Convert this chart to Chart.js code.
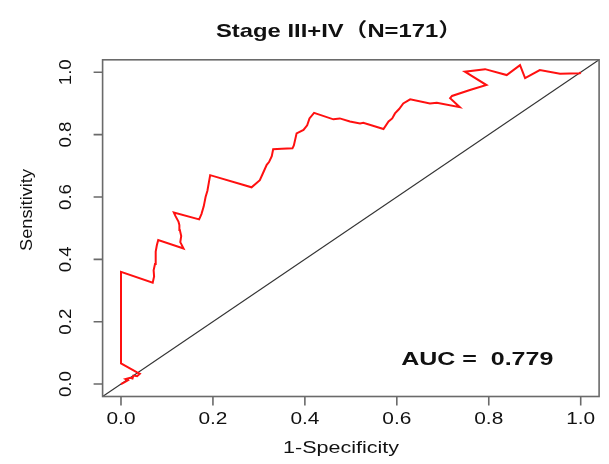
<!DOCTYPE html>
<html><head><meta charset="utf-8">
<script src="https://cdn.jsdelivr.net/npm/chart.js@4"></script>
<style>html,body{margin:0;padding:0;background:#fff}#wrap{width:609px;height:464px}</style>
</head><body><div id="wrap"><canvas id="c" width="609" height="464"></canvas></div>
<script>
// ROC curve points (1-Specificity, Sensitivity)
const fprValues = [0,0.008,0.015,0.010,0.020,0.025,0.027,0.035,0.041,0.034,0,0,
  0.069,0.072,0.071,0.074,0.076,0.075,0.078,0.081,0.136,0.129,0.131,0.128,0.127,0.125,0.118,0.115,
  0.170,0.175,0.180,0.184,0.188,0.191,0.194,0.284,0.295,0.302,0.310,0.317,0.322,0.328,0.331,0.350,0.373,0.376,
  0.382,0.397,0.405,0.410,0.420,0.462,0.476,0.498,0.520,0.527,0.571,0.582,0.590,0.596,0.605,0.614,0.629,
  0.672,0.687,0.737,0.716,0.720,0.759,0.795,0.748,0.792,0.839,0.868,0.879,0.911,0.955,0.998,1.0];
const tprValues = [0,0.006,0.012,0.016,0.020,0.018,0.027,0.025,0.033,0.038,0.066,0.360,
  0.325,0.345,0.365,0.385,0.405,0.425,0.445,0.462,0.435,0.455,0.475,0.494,0.510,0.521,0.540,0.550,
  0.528,0.545,0.570,0.600,0.620,0.645,0.670,0.631,0.645,0.654,0.680,0.703,0.712,0.731,0.753,0.755,0.756,0.765,
  0.804,0.815,0.830,0.852,0.870,0.849,0.852,0.842,0.836,0.838,0.818,0.842,0.852,0.868,0.882,0.900,0.913,
  0.900,0.902,0.888,0.917,0.924,0.943,0.959,1.002,1.010,0.991,1.023,0.981,1.007,0.995,0.997,1.0];
const diagonalX = [-0.04, 1.04];
const diagonalY = [-0.04, 1.04];
const xTickValues = [0, 0.2, 0.4, 0.6, 0.8, 1.0];
const yTickValues = [0, 0.2, 0.4, 0.6, 0.8, 1.0];
const xTickLabels = ['0.0', '0.2', '0.4', '0.6', '0.8', '1.0'];
const yTickLabels = ['0.0', '0.2', '0.4', '0.6', '0.8', '1.0'];
const titleText = 'Stage III+IV（N=171）';
const xAxisTitle = '1-Specificity';
const yAxisTitle = 'Sensitivity';
const aucLabel = 'AUC =  0.779';
const aucPosition = [0.775, 0.077];

const rocPoints = fprValues.map((x, i) => ({x: x, y: tprValues[i]}));
const diagPoints = diagonalX.map((x, i) => ({x: x, y: diagonalY[i]}));

function fitText(ctx, text, cx, cy, font, width, rot) {
  ctx.save();
  ctx.font = font;
  ctx.translate(cx, cy);
  if (rot) ctx.rotate(rot);
  const w = ctx.measureText(text).width;
  const sx = width ? width / w : 1;
  ctx.scale(sx, 1);
  ctx.textAlign = 'center';
  ctx.textBaseline = 'middle';
  ctx.fillStyle = '#111';
  ctx.fillText(text, 0, 0);
  ctx.restore();
}

const rPlot = {
  id: 'rPlot',
  afterDraw(chart) {
    const ctx = chart.ctx, a = chart.chartArea;
    const xs = chart.scales.x, ys = chart.scales.y;
    ctx.save();
    ctx.strokeStyle = '#6a6a6a';
    ctx.lineWidth = 1.6;
    ctx.strokeRect(a.left, a.top, a.right - a.left, a.bottom - a.top);
    ctx.beginPath();
    xTickValues.forEach(v => {
      const px = xs.getPixelForValue(v);
      ctx.moveTo(px, a.bottom); ctx.lineTo(px, a.bottom + 9);
    });
    yTickValues.forEach(v => {
      const py = ys.getPixelForValue(v);
      ctx.moveTo(a.left, py); ctx.lineTo(a.left - 9, py);
    });
    ctx.stroke();
    ctx.restore();
    const tickFont = '16px "Liberation Sans", Arial, sans-serif';
    xTickValues.forEach((v, i) => {
      fitText(ctx, xTickLabels[i], xs.getPixelForValue(v), 420, tickFont, 29);
    });
    yTickValues.forEach((v, i) => {
      fitText(ctx, yTickLabels[i], 67, ys.getPixelForValue(v), tickFont, 26, -Math.PI / 2);
    });
    fitText(ctx, xAxisTitle, 341, 449, '16px "Liberation Sans", Arial, sans-serif', 116);
    fitText(ctx, yAxisTitle, 28, 210, '16px "Liberation Sans", Arial, sans-serif', 82, -Math.PI / 2);
    fitText(ctx, titleText, 339, 32, 'bold 19px "Liberation Sans", "Noto Sans CJK SC", Arial, sans-serif', 246);
    fitText(ctx, aucLabel, xs.getPixelForValue(aucPosition[0]), ys.getPixelForValue(aucPosition[1]),
      'bold 18px "Liberation Sans", Arial, sans-serif', 152);
  }
};

new Chart(document.getElementById('c'), {
  type: 'scatter',
  data: {
    datasets: [
      {label: 'ROC', data: rocPoints, showLine: true, borderColor: '#ff1010', borderWidth: 2,
       pointRadius: 0, tension: 0, fill: false, order: 1},
      {label: 'Reference', data: diagPoints, showLine: true, borderColor: '#333333', borderWidth: 1.1,
       pointRadius: 0, tension: 0, fill: false, order: 2}
    ]
  },
  options: {
    responsive: false,
    animation: false,
    events: [],
    layout: {padding: {left: 102.6, right: 9.9, top: 59.8, bottom: 67.5}},
    plugins: {legend: {display: false}, tooltip: {enabled: false}, title: {display: false}},
    scales: {
      x: {type: 'linear', min: -0.04, max: 1.04, display: false},
      y: {type: 'linear', min: -0.04, max: 1.04, display: false}
    }
  },
  plugins: [rPlot]
});
</script>
</body></html>
